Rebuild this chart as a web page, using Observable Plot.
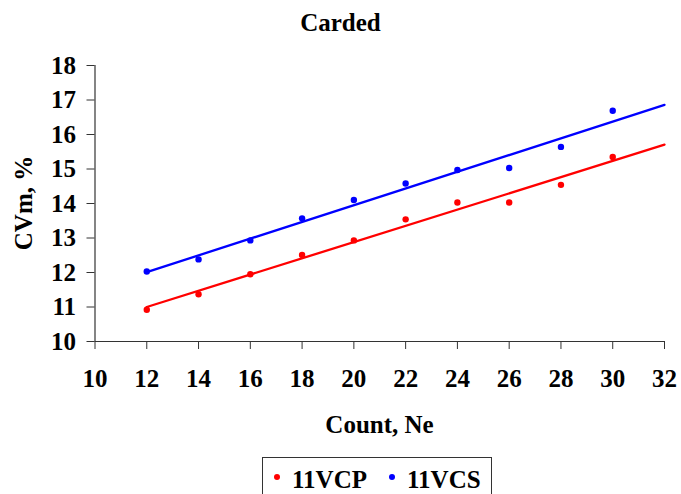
<!DOCTYPE html>
<html>
<head>
<meta charset="utf-8">
<script src="https://cdn.jsdelivr.net/npm/d3@7"></script>
<script src="https://cdn.jsdelivr.net/npm/@observablehq/plot@0.6"></script>
<style>
  html, body { margin: 0; padding: 0; background: #fff; }
  #wrap { position: relative; width: 681px; height: 494px; font-family: "Liberation Serif", "Times New Roman", serif; font-weight: bold; color: #000; overflow: hidden; }
  #chart { position: absolute; left: 0; top: 0; }
  .lbl { position: absolute; font-size: 25px; line-height: 25px; white-space: nowrap; }
  #title { left: 0; width: 681px; top: 10px; text-align: center; }
  #xlabel { left: 94.5px; width: 570px; top: 412px; text-align: center; }
  #ylabel { left: 23px; top: 203px; transform: translate(-50%, -50%) rotate(-90deg); }
  #legend { position: absolute; left: 262px; top: 457px; width: 230px; height: 40px; border: 1px solid #333; box-sizing: border-box; font-size: 25px; line-height: 25px; }
  .item { position: absolute; top: 9px; }
  .dot { position: absolute; width: 6px; height: 6px; border-radius: 50%; top: 10px; }
</style>
</head>
<body>
<div id="wrap">
  <div id="chart"></div>
  <div id="title" class="lbl">Carded</div>
  <div id="xlabel" class="lbl">Count, Ne</div>
  <div id="ylabel" class="lbl">CVm, %</div>
  <div id="legend"></div>
</div>
<script>
const counts = [12, 14, 16, 18, 20, 22, 24, 26, 28, 30];
const cvm11VCP = [10.92, 11.37, 11.95, 12.51, 12.93, 13.54, 14.03, 14.03, 14.54, 15.35];
const cvm11VCS = [12.03, 12.38, 12.93, 13.57, 14.10, 14.58, 14.97, 15.03, 15.64, 16.69];
const seriesNames = ["11VCP", "11VCS"];
const seriesColors = ["#ff0000", "#0000ff"];
const xTicks = [10, 12, 14, 16, 18, 20, 22, 24, 26, 28, 30, 32];
const yTicks = [10, 11, 12, 13, 14, 15, 16, 17, 18];
const trendForward = 2;

const seriesValues = [cvm11VCP, cvm11VCS];
const points = [];
seriesNames.forEach((s, i) => counts.forEach((c, j) => points.push({series: s, x: c, y: seriesValues[i][j]})));

// least-squares trend lines (Excel linear trendline, forecast forward)
const trend = [];
seriesNames.forEach((s, i) => {
  const ys = seriesValues[i];
  const mx = d3.mean(counts), my = d3.mean(ys);
  const slope = d3.sum(counts, (c, j) => (c - mx) * (ys[j] - my)) / d3.sum(counts, c => (c - mx) ** 2);
  const b = my - slope * mx;
  const x0 = d3.min(counts), x1 = d3.max(counts) + trendForward;
  trend.push({series: s, x: x0, y: b + slope * x0});
  trend.push({series: s, x: x1, y: b + slope * x1});
});

const plot = Plot.plot({
  width: 681,
  height: 494,
  marginLeft: 94.5,
  marginRight: 17,
  marginTop: 65,
  marginBottom: 153,
  style: {fontFamily: "'Liberation Serif', 'Times New Roman', serif", fontWeight: "bold", fontSize: "25px", background: "transparent", overflow: "visible"},
  x: {domain: [10, 32], ticks: xTicks},
  y: {domain: [10, 18], ticks: yTicks},
  color: {domain: seriesNames, range: seriesColors},
  marks: [
    Plot.axisX({ticks: xTicks, tickSize: 8, tickPadding: 20, label: null, fontSize: 25, fontWeight: "bold", stroke: "#333", color: "#000"}),
    Plot.axisY({ticks: yTicks, tickSize: 8, tickPadding: 11, label: null, fontSize: 25, fontWeight: "bold", stroke: "#333", color: "#000"}),
    Plot.ruleY([10], {stroke: "#333", strokeWidth: 1.2}),
    Plot.ruleX([10], {stroke: "#333", strokeWidth: 1.2}),
    Plot.line(trend, {x: "x", y: "y", z: "series", stroke: "series", strokeWidth: 2.3}),
    Plot.dot(points, {x: "x", y: "y", fill: "series", r: 3.2, stroke: null})
  ]
});
plot.querySelectorAll("g[aria-label='x-axis tick label'] text, g[aria-label='y-axis tick label'] text").forEach(t => t.setAttribute("fill", "#000"));
document.getElementById("chart").appendChild(plot);

// legend
const legend = document.getElementById("legend");
const dotX = [14, 129];
const textX = [29, 144];
seriesNames.forEach((s, i) => {
  const d = document.createElement("div");
  d.className = "dot";
  d.style.left = (dotX[i] - 3) + "px";
  d.style.top = (19 - 3) + "px";
  d.style.background = seriesColors[i];
  legend.appendChild(d);
  const t = document.createElement("div");
  t.className = "item";
  t.style.left = textX[i] + "px";
  t.textContent = s;
  legend.appendChild(t);
});
</script>
</body>
</html>
